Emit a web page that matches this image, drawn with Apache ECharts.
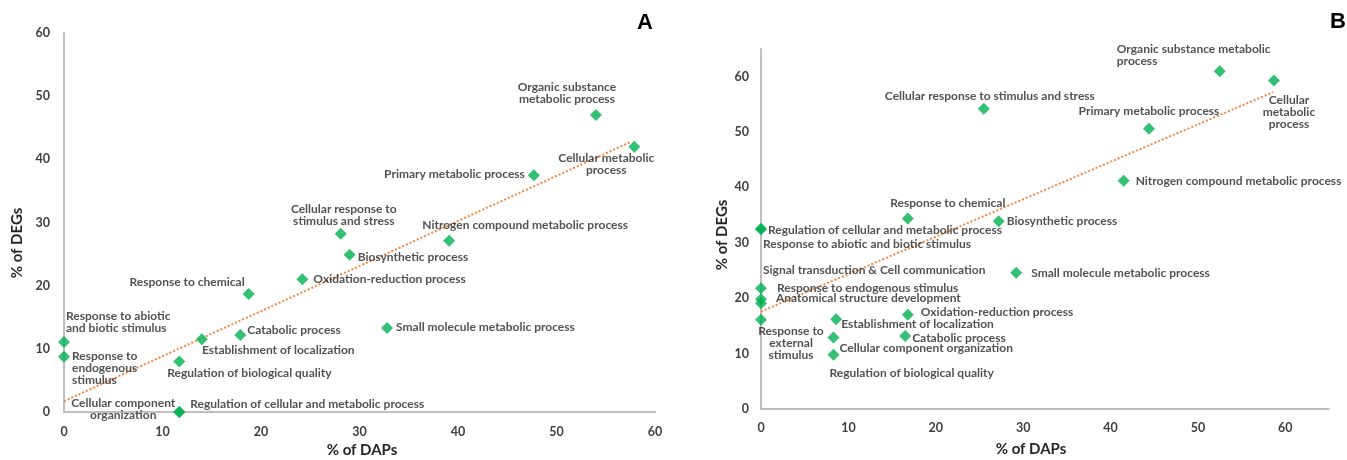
<!DOCTYPE html>
<html><head><meta charset="utf-8">
<script src="https://cdn.jsdelivr.net/npm/echarts@6/dist/echarts.min.js"></script>
<style>html,body{margin:0;padding:0;background:#fff}#c{width:1347px;height:460px}</style>
</head><body><div id="c"></div>
<script>
// ---------- Panel A data ----------
const namesA = [
  'Organic substance\nmetabolic process',
  'Cellular metabolic\nprocess',
  'Primary metabolic process',
  'Cellular response to\nstimulus and stress',
  'Nitrogen compound metabolic process',
  'Biosynthetic process',
  'Oxidation-reduction process',
  'Response to chemical',
  'Response to abiotic\nand biotic stimulus',
  'Response to\nendogenous\nstimulus',
  'Establishment of localization',
  'Catabolic process',
  'Regulation of biological quality',
  'Cellular component\norganization',
  'Regulation of cellular and metabolic process',
  'Small molecule metabolic process'
];
const dapsA = [54.0, 57.9, 47.7, 28.1, 39.1, 29.0, 24.2, 18.75, 0, 0, 14.0, 17.9, 11.7, 11.7, 11.7, 32.8];
const degsA = [47.0, 42.0, 37.5, 28.2, 27.1, 24.9, 21.0, 18.7, 11.1, 8.75, 11.5, 12.2, 8.0, 0, 0, 13.3];
const trendDapsA = [0, 57.6];
const trendDegsA = [1.7, 42.8];

// ---------- Panel B data ----------
const namesB = [
  'Organic substance metabolic\nprocess',
  'Cellular\nmetabolic\nprocess',
  'Primary metabolic process',
  'Nitrogen compound metabolic process',
  'Cellular response to stimulus and stress',
  'Response to chemical',
  'Biosynthetic process',
  'Regulation of cellular and metabolic process',
  'Response to abiotic and biotic stimulus',
  'Response to endogenous stimulus',
  'Anatomical structure development',
  'Signal transduction & Cell communication',
  'Response to\nexternal\nstimulus',
  'Oxidation-reduction process',
  'Establishment of localization',
  'Catabolic process',
  'Cellular component organization',
  'Regulation of biological quality',
  'Small molecule metabolic process'
];
const dapsB = [52.5, 58.7, 44.4, 41.5, 25.5, 16.8, 27.2, 0, 0, 0, 0, 0, 0, 16.8, 8.6, 16.5, 8.3, 8.3, 29.2];
const degsB = [61.0, 59.3, 50.6, 41.2, 54.2, 34.4, 33.9, 32.5, 32.5, 21.8, 19.8, 19.1, 16.1, 17.0, 16.2, 13.2, 12.9, 9.8, 24.6];
const trendDapsB = [0, 58.6];
const trendDegsB = [17.6, 57.2];

// ---------- label placement (layout only: pixel shift of text anchor from marker centre) ----------
const labelPosA = [
  [-29, -22, 'center'], [-28, 17, 'center'], [-9, -1, 'right'], [3, -19, 'center'],
  [76, -16, 'center'], [8, 2, 'left'], [11, 0, 'left'], [-4, -12, 'right'],
  [2, -20, 'left'], [8, 11, 'left'], [0, 11, 'left'], [7, -5, 'left'],
  [-12, 12, 'left'], [-56, -3, 'center'], [11, -8, 'left'], [9, -1, 'left']
];
const labelPosB = [
  [-103, -16, 'left'], [15, 32, 'center'], [0, -18, 'center'], [12, 0, 'left'],
  [-99, -13, 'left'], [40, -15, 'center'], [8, 0, 'left'], [7, 1, 'left'],
  [2, 15, 'left'], [16, 0, 'left'], [15, -1, 'left'], [2, -33, 'left'],
  [30, 23, 'center'], [13, -3, 'left'], [5, 5, 'left'], [7, 2, 'left'],
  [6, 11, 'left'], [-4, 18, 'left'], [15, 0, 'left']
];

const FONT = 'Lato';
const GREEN = '#00B050';
const ORANGE = '#F0883E';
const AXIS_GRAY = '#BFBFBF';
const TXT = '#262626';
const SYM = 12;

function pts(names, xs, ys, pos) {
  return names.map((n, i) => ({
    value: [xs[i], ys[i]],
    name: n,
    label: {
      show: true, formatter: n,
      position: [SYM / 2 + pos[i][0], SYM / 2 + pos[i][1]],
      align: pos[i][2], verticalAlign: 'middle'
    }
  }));
}
function line(xs, ys) { return xs.map((x, i) => [x, ys[i]]); }

const axisLabelStyle = { fontFamily: FONT, fontWeight: 'bold', fontSize: 12.5, color: '#404040' };
function ax(idx, max, margin) {
  return {
    gridIndex: idx, type: 'value', min: 0, max: max, interval: 10,
    axisLine: { show: true, onZero: false, lineStyle: { color: AXIS_GRAY, width: 2 } },
    axisTick: { show: false }, splitLine: { show: false },
    axisLabel: Object.assign({ margin: margin, showMaxLabel: max % 10 === 0 }, axisLabelStyle)
  };
}

const labelText = { fontFamily: FONT, fontWeight: 'bold', fontSize: 12, color: TXT, lineHeight: 12 };

const chart = echarts.init(document.getElementById('c'), null, { renderer: 'canvas' });
chart.setOption({
  animation: false,
  backgroundColor: '#fff',
  grid: [
    { left: 64, top: 33, width: 591, height: 379 },
    { left: 761, top: 49, width: 568, height: 360 }
  ],
  xAxis: [ax(0, 60, 13), ax(1, 65, 12)],
  yAxis: [ax(0, 60, 14), ax(1, 65, 12)],
  series: [
    { type: 'line', xAxisIndex: 0, yAxisIndex: 0, data: line(trendDapsA, trendDegsA), symbol: 'none', z: 1,
      lineStyle: { color: ORANGE, width: 2, type: 'dotted' } },
    { type: 'line', xAxisIndex: 1, yAxisIndex: 1, data: line(trendDapsB, trendDegsB), symbol: 'none', z: 1,
      lineStyle: { color: ORANGE, width: 2, type: 'dotted' } },
    { type: 'scatter', xAxisIndex: 0, yAxisIndex: 0, symbol: 'diamond', symbolSize: SYM, z: 3,
      itemStyle: { color: GREEN }, label: labelText,
      data: pts(namesA, dapsA, degsA, labelPosA) },
    { type: 'scatter', xAxisIndex: 1, yAxisIndex: 1, symbol: 'diamond', symbolSize: SYM, z: 3,
      itemStyle: { color: GREEN }, label: labelText,
      data: pts(namesB, dapsB, degsB, labelPosB) }
  ],
  graphic: [
    { type: 'text', x: 645, y: 23, style: { text: 'A', align: 'center', verticalAlign: 'middle', font: 'bold 22px "Liberation Sans"', fill: '#000' } },
    { type: 'text', x: 1338, y: 22, style: { text: 'B', align: 'center', verticalAlign: 'middle', font: 'bold 22px "Liberation Sans"', fill: '#000' } },
    { type: 'text', x: 362, y: 450, style: { text: '% of DAPs', align: 'center', verticalAlign: 'middle', font: 'bold 15px Lato', fill: TXT } },
    { type: 'text', x: 1031, y: 449, style: { text: '% of DAPs', align: 'center', verticalAlign: 'middle', font: 'bold 15px Lato', fill: TXT } },
    { type: 'text', x: 17, y: 243, rotation: Math.PI / 2, style: { text: '% of DEGs', align: 'center', verticalAlign: 'middle', font: 'bold 15px Lato', fill: TXT } },
    { type: 'text', x: 722, y: 235, rotation: Math.PI / 2, style: { text: '% of DEGs', align: 'center', verticalAlign: 'middle', font: 'bold 15px Lato', fill: TXT } }
  ]
});
</script></body></html>
